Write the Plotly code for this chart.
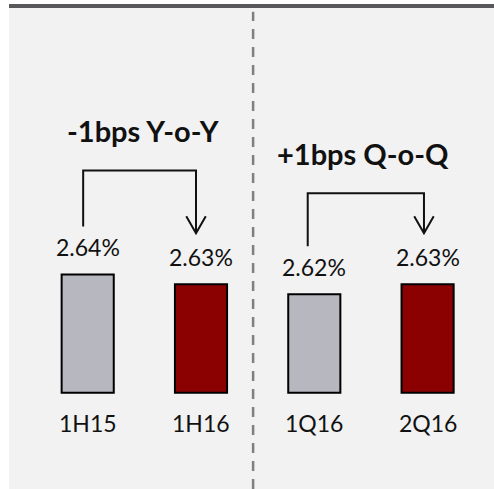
import plotly.graph_objects as go

# Net interest margin, period comparisons
categories = ["1H15", "1H16", "1Q16", "2Q16"]
values = [2.64, 2.63, 2.62, 2.63]
bar_colors = ["#b7b7bf", "#8b0000", "#b7b7bf", "#8b0000"]
headlines = ["-1bps Y-o-Y", "+1bps Q-o-Q"]

BASE = 2.52            # value at the bar baseline
Y_RANGE = [2.4222, 2.9146]
X_RANGE = [-0.6946, 3.5861]
PLOT_H = 485
PX_PER_UNIT = PLOT_H / (Y_RANGE[1] - Y_RANGE[0])


def above(v, px):
    """Data value lying `px` pixels above value v."""
    return v + px / PX_PER_UNIT


FONT = "Lato"
INK = "#111111"

x = list(range(len(categories)))

fig = go.Figure()
fig.add_trace(go.Bar(
    x=x,
    y=[v - BASE for v in values],
    base=BASE,
    width=0.46,
    marker=dict(color=bar_colors, line=dict(color="#000000", width=2)),
    hoverinfo="skip",
))

annotations = []
for i, (c, v) in enumerate(zip(categories, values)):
    annotations.append(dict(x=i, y=v, xref="x", yref="y", text=f"{v:.2f}%",
                            showarrow=False, yshift=27, yanchor="middle",
                            font=dict(family=FONT, size=23, color=INK)))
    annotations.append(dict(x=i, y=BASE, xref="x", yref="y", text=c,
                            showarrow=False, yshift=-30, yanchor="middle",
                            font=dict(family=FONT, size=23, color=INK)))

annotations.append(dict(x=0.486, y=0.739, xref="x", yref="paper", text=f"<b>{headlines[0]}</b>",
                        showarrow=False, yanchor="middle",
                        font=dict(family=FONT, size=29, color=INK)))
annotations.append(dict(x=2.43, y=0.691, xref="x", yref="paper", text=f"<b>{headlines[1]}</b>",
                        showarrow=False, yanchor="middle",
                        font=dict(family=FONT, size=29, color=INK)))

shapes = []
# dark rule across the top
shapes.append(dict(type="rect", xref="paper", yref="paper", x0=0, x1=1,
                   y0=1 - 4 / PLOT_H, y1=1, fillcolor="#58585a", line=dict(width=0)))
# dashed divider between the half-year and quarter comparisons
shapes.append(dict(type="line", xref="x", yref="paper", x0=1.46, x1=1.46,
                   y0=0, y1=0.984, line=dict(color="#808080", width=2.5, dash="10px,8px")))


def bracket(i_from, i_to, off_from, off_to, top_px):
    v_from, v_to = values[i_from], values[i_to]
    xa, xb = i_from + off_from, i_to + off_to
    y_leg = above(v_from, 48)
    y_top = above(max(v_from, v_to), top_px)
    y_tip = above(v_to, 51)
    y_wing = y_tip + 17 / PX_PER_UNIT
    dx = 0.086
    path = (f"M {xa},{y_leg} L {xa},{y_top} L {xb},{y_top} L {xb},{y_tip} "
            f"M {xb - dx},{y_wing} L {xb},{y_tip} L {xb + dx},{y_wing}")
    return dict(type="path", xref="x", yref="y", path=path,
                line=dict(color=INK, width=2))


shapes.append(bracket(0, 1, -0.04, -0.044, 104))
shapes.append(bracket(2, 3, -0.058, -0.032, 91))

fig.update_layout(
    width=494, height=489,
    margin=dict(l=9, r=0, t=4, b=0, pad=0),
    paper_bgcolor="#ffffff",
    plot_bgcolor="#f2f2f2",
    showlegend=False,
    xaxis=dict(range=X_RANGE, visible=False, fixedrange=True),
    yaxis=dict(range=Y_RANGE, visible=False, fixedrange=True),
    annotations=annotations,
    shapes=shapes,
)

fig.write_html("out.html", config={"displayModeBar": False})
